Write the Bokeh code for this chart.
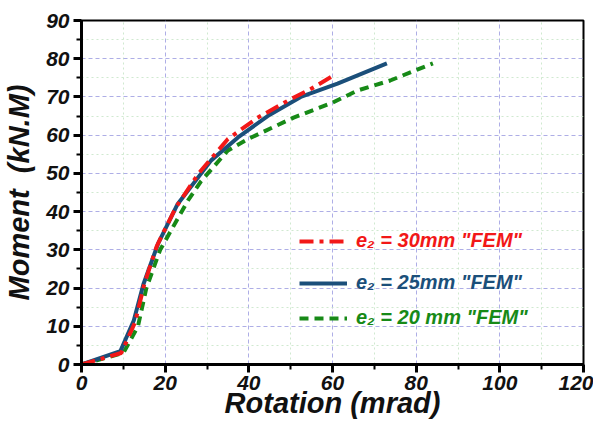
from bokeh.plotting import figure
from bokeh.models import Legend, LegendItem, Range1d, FixedTicker
from bokeh.embed import file_html
from bokeh.resources import INLINE

# data
rot_30 = [0, 9.5, 12.8, 15.0, 18.0, 22.5, 28.0, 35.0, 42.0, 49.3, 55.5, 60.7]
mom_30 = [0, 3.0, 11.0, 21.0, 31.0, 41.0, 50.0, 59.0, 64.5, 69.0, 72.5, 75.9]
rot_25 = [0, 9.3, 12.5, 14.8, 18.3, 23.0, 31.0, 37.4, 44.5, 52.4, 61.2, 73.0]
mom_25 = [0, 3.5, 11.5, 21.0, 31.6, 42.0, 53.4, 59.4, 65.0, 70.0, 73.5, 78.8]
rot_20 = [0, 10.0, 13.5, 15.5, 18.8, 25.5, 28.6, 35.0, 39.8, 50.7, 60.0, 66.0, 73.8, 84.0]
mom_20 = [0, 3.0, 10.0, 20.0, 30.0, 43.0, 48.0, 56.0, 59.0, 64.6, 68.5, 71.7, 74.3, 78.8]
labels = ['e\u2082 = 30mm "FEM"', 'e\u2082 = 25mm "FEM"', 'e\u2082 = 20 mm "FEM"']
x_ticks = [0, 20, 40, 60, 80, 100, 120]
y_ticks = [0, 10, 20, 30, 40, 50, 60, 70, 80, 90]

RED = "#f21818"
BLUE = "#1b4f7a"
GREEN = "#178a17"
FONT = "Liberation Sans"

p = figure(width=593, height=426, output_backend="svg", toolbar_location=None,
           x_range=Range1d(0, 120), y_range=Range1d(0, 90),
           min_border_left=80, min_border_right=10, min_border_top=20, min_border_bottom=62)

p.outline_line_color = "black"
p.outline_line_width = 2
p.outline_line_alpha = 1

for ax, ticks in ((p.xaxis[0], x_ticks), (p.yaxis[0], y_ticks)):
    ax.ticker = FixedTicker(ticks=ticks, minor_ticks=[t + (ticks[1] - ticks[0]) / 2 for t in ticks[:-1]])
    ax.axis_line_width = 3
    ax.axis_line_color = "black"
    ax.major_tick_line_width = 3
    ax.minor_tick_line_width = 2
    ax.major_tick_out = 8
    ax.major_tick_in = 0
    ax.minor_tick_out = 5
    ax.minor_tick_in = 0
    ax.major_label_text_font = FONT
    ax.major_label_text_font_style = "bold italic"
    ax.major_label_text_font_size = "21px"
    ax.major_label_text_color = "#111111"
    ax.axis_label_text_font = FONT
    ax.axis_label_text_font_style = "bold italic"
    ax.axis_label_text_font_size = "29px"
    ax.axis_label_text_color = "#111111"

p.xaxis.axis_label = "Rotation (mrad)"
p.yaxis.axis_label = "Moment\u00a0 (kN.M)"
p.xaxis.major_label_standoff = 3
p.yaxis.major_label_standoff = 4
p.xaxis.axis_label_standoff = -6
p.yaxis.axis_label_standoff = 8

for g in (p.xgrid[0], p.ygrid[0]):
    g.grid_line_color = "#9a9ae0"
    g.grid_line_dash = "4 3"
    g.grid_line_width = 1
    g.grid_line_alpha = 0.8
    g.minor_grid_line_color = "#c4e4c4"
    g.minor_grid_line_dash = "2 3"
    g.minor_grid_line_width = 1
    g.minor_grid_line_alpha = 0.8
p.xgrid[0].ticker = p.xaxis[0].ticker
p.ygrid[0].ticker = p.yaxis[0].ticker

r20 = p.line(rot_20, mom_20, line_color=GREEN, line_width=4, line_dash="9 6")
r25 = p.line(rot_25, mom_25, line_color=BLUE, line_width=4)
r30 = p.line(rot_30, mom_30, line_color=RED, line_width=4, line_dash="14 6 4 6")

for lab, rend, col, y in ((labels[0], r30, RED, 112), (labels[1], r25, BLUE, 70), (labels[2], r20, GREEN, 35)):
    lg = Legend(items=[LegendItem(label=lab, renderers=[rend])], location=(218, y),
                label_text_color=col, label_text_font=FONT, label_text_font_style="bold italic",
                label_text_font_size="20px", glyph_width=48, glyph_height=22, label_height=22,
                padding=0, margin=0, spacing=0, label_standoff=9,
                background_fill_alpha=0, border_line_alpha=0)
    p.add_layout(lg)

open("out.html", "w").write(file_html(p, INLINE))
